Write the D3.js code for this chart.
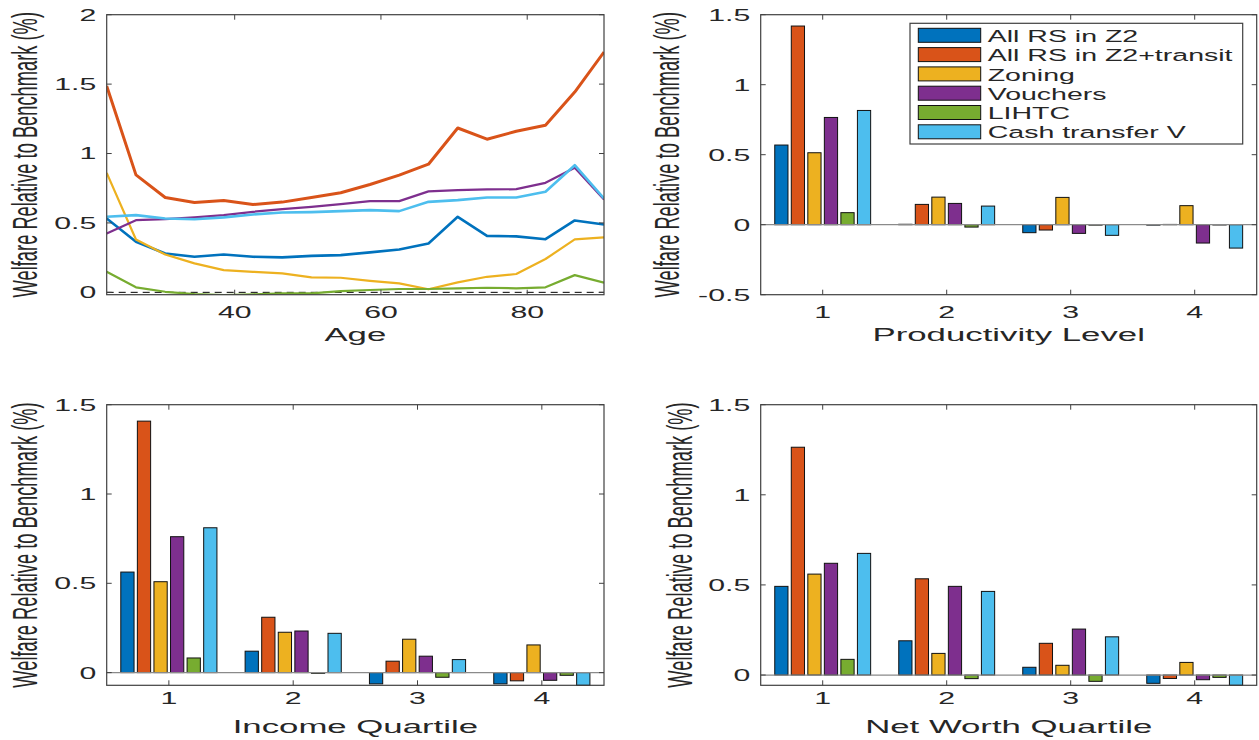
<!DOCTYPE html>
<html><head><meta charset="utf-8">
<script src="https://cdn.jsdelivr.net/npm/d3@7"></script>
<style>
html,body{margin:0;padding:0;background:#fff;}
svg{display:block;}
text{font-family:"Liberation Sans",Arial,Helvetica,sans-serif;fill:#262626;}
</style></head>
<body>
<svg id="chart" width="1259" height="740"></svg>
<script>
// ---------- DATA ----------
const seriesNames = ["All RS in Z2","All RS in Z2+transit","Zoning","Vouchers","LIHTC","Cash transfer V"];
const seriesColors = ["#0072BD","#D95319","#EDB120","#7E2F8E","#77AC30","#4DBEEE"];

// Panel 1: welfare by age
const ages = [22.5,26.5,30.5,34.5,38.5,42.5,46.5,50.5,54.5,58.5,62.5,66.5,70.5,74.5,78.5,82.5,86.5,90.5];
const ageAllRS    = [0.532,0.364,0.280,0.256,0.273,0.256,0.252,0.263,0.268,0.288,0.309,0.352,0.544,0.407,0.403,0.383,0.518,0.489];
const ageTransit  = [1.486,0.846,0.683,0.647,0.662,0.633,0.650,0.683,0.717,0.777,0.844,0.923,1.184,1.103,1.160,1.204,1.443,1.731];
const ageZoning   = [0.860,0.381,0.273,0.209,0.160,0.148,0.137,0.108,0.105,0.083,0.065,0.022,0.072,0.112,0.132,0.240,0.381,0.396];
const ageVouchers = [0.424,0.520,0.527,0.540,0.556,0.580,0.600,0.616,0.635,0.657,0.657,0.727,0.736,0.741,0.743,0.789,0.897,0.669];
const ageLIHTC    = [0.148,0.036,0.004,-0.012,-0.019,-0.014,-0.007,-0.007,0.009,0.017,0.024,0.024,0.029,0.033,0.029,0.036,0.124,0.069];
const ageCash     = [0.544,0.556,0.532,0.527,0.540,0.561,0.575,0.578,0.585,0.592,0.585,0.652,0.664,0.683,0.683,0.724,0.916,0.676];
const ageTicks = [40,60,80];
const ageYTicks = [0,0.5,1,1.5,2];

// Bar panels: groups 1..4
const groups = [1,2,3,4];
const prodAllRS    = [0.569, 0.003,-0.057,-0.003];
const prodTransit  = [1.419, 0.145,-0.038, 0.002];
const prodZoning   = [0.514, 0.197, 0.195, 0.136];
const prodVouchers = [0.766, 0.152,-0.062,-0.131];
const prodLIHTC    = [0.086,-0.017,-0.003,-0.002];
const prodCash     = [0.816, 0.133,-0.076,-0.167];
const prodYTicks = [-0.5,0,0.5,1,1.5];

const incAllRS    = [0.563, 0.120,-0.063,-0.063];
const incTransit  = [1.408, 0.310, 0.064,-0.046];
const incZoning   = [0.509, 0.226, 0.187, 0.155];
const incVouchers = [0.761, 0.233, 0.092,-0.043];
const incLIHTC    = [0.082,-0.004,-0.026,-0.015];
const incCash     = [0.811, 0.220, 0.073,-0.071];

const nwAllRS    = [0.492, 0.190, 0.043,-0.046];
const nwTransit  = [1.264, 0.534, 0.176,-0.019];
const nwZoning   = [0.560, 0.120, 0.054, 0.070];
const nwVouchers = [0.620, 0.492, 0.255,-0.026];
const nwLIHTC    = [0.087,-0.020,-0.035,-0.013];
const nwCash     = [0.675, 0.464, 0.212,-0.057];
const quartYTicks = [0,0.5,1,1.5];

const yLabel = "Welfare Relative to Benchmark (%)";

// ---------- DRAWING ----------
const svg = d3.select("#chart");
const AX = "#404040";
const TICK_FS = 16.8, TICK_SX = 1.8;
const LAB_FS = 18.3, LAB_SX = 1.9, VLAB_SX = 1.88;

function htext(x, y, str, fs, sx, anchor){
  svg.append("text")
    .attr("transform", `translate(${x},${y}) scale(${sx},1)`)
    .attr("text-anchor", anchor)
    .attr("font-size", fs)
    .text(str);
}
function vtext(x, y, str, fs, sx){
  svg.append("text")
    .attr("transform", `translate(${x},${y}) rotate(-90) scale(1,${sx})`)
    .attr("text-anchor", "middle")
    .attr("font-size", fs)
    .text(str);
}

function frame(p, x, y, xTicks, yTicks, fmtX, fmtY){
  const g = svg.append("g");
  const tl = 5;
  xTicks.forEach(t=>{
    const px = x(t);
    g.append("line").attr("x1",px).attr("x2",px).attr("y1",p.b).attr("y2",p.b-tl).attr("stroke",AX);
    g.append("line").attr("x1",px).attr("x2",px).attr("y1",p.t).attr("y2",p.t+tl).attr("stroke",AX);
  });
  yTicks.forEach(t=>{
    const py = y(t);
    g.append("line").attr("x1",p.l).attr("x2",p.l+tl).attr("y1",py).attr("y2",py).attr("stroke",AX);
    g.append("line").attr("x1",p.r).attr("x2",p.r-tl).attr("y1",py).attr("y2",py).attr("stroke",AX);
  });
  g.append("rect").attr("x",p.l).attr("y",p.t).attr("width",p.r-p.l).attr("height",p.b-p.t)
    .attr("fill","none").attr("stroke",AX).attr("stroke-width",1.2);
  xTicks.forEach(t=> htext(x(t), p.xtb, fmtX(t), TICK_FS, TICK_SX, "middle"));
  yTicks.forEach(t=> htext(p.l-10.5, y(t)+5.9, fmtY(t), TICK_FS, TICK_SX, "end"));
  htext((p.l+p.r)/2, p.xlb, p.xlabel, LAB_FS, LAB_SX, "middle");
  vtext(p.ylx, (p.t+p.b)/2, yLabel, LAB_FS, VLAB_SX);
}

const fmt = d => (d===0 ? "0" : String(d));

// ----- Panel 1: lines -----
{
  const p = {l:106.7, r:604, t:14.7, b:294.7, xtb:318.3, xlb:340.5, ylx:37.2, xlabel:"Age"};
  const x = d3.scaleLinear().domain([22.5,90.5]).range([p.l,p.r]);
  const y = d3.scaleLinear().domain([-0.017,2]).range([p.b,p.t]);
  svg.append("defs").append("clipPath").attr("id","clip1")
    .append("rect").attr("x",p.l).attr("y",p.t).attr("width",p.r-p.l).attr("height",p.b-p.t);
  const lineSets = [ageAllRS, ageTransit, ageZoning, ageVouchers, ageLIHTC, ageCash];
  const widths = [2.6, 3.0, 2.2, 2.2, 2.2, 2.6];
  const gl = svg.append("g").attr("clip-path","url(#clip1)");
  gl.append("line").attr("x1",p.l).attr("x2",p.r).attr("y1",y(0)).attr("y2",y(0))
    .attr("stroke","#000").attr("stroke-width",1).attr("stroke-dasharray","7,5");
  const line = d3.line().x((d,i)=>x(ages[i])).y(d=>y(d));
  lineSets.forEach((s,k)=>{
    gl.append("path").attr("d",line(s)).attr("fill","none")
      .attr("stroke",seriesColors[k]).attr("stroke-width",widths[k]).attr("stroke-linejoin","round");
  });
  frame(p, x, y, ageTicks, ageYTicks, fmt, fmt);
}

// ----- Bar panels -----
function barPanel(p, ydom, yTicks, sets, legend){
  const x = d3.scaleLinear().domain([0.5,4.5]).range([p.l,p.r]);
  const y = d3.scaleLinear().domain(ydom).range([p.b,p.t]);
  const n = sets.length, slot = 0.8/n, bw = slot*0.8;
  const g = svg.append("g");
  sets.forEach((s,k)=>{
    s.forEach((v,i)=>{
      const c = groups[i] + (k-(n-1)/2)*slot;
      const x0 = x(c-bw/2), x1 = x(c+bw/2);
      const y0 = y(Math.max(0,v)), y1 = y(Math.min(0,v));
      g.append("rect").attr("x",x0).attr("y",y0).attr("width",x1-x0).attr("height",Math.max(0.01,y1-y0))
        .attr("fill",seriesColors[k]).attr("stroke","#111").attr("stroke-width",1);
    });
  });
  g.append("line").attr("x1",p.l).attr("x2",p.r).attr("y1",y(0)).attr("y2",y(0))
    .attr("stroke","#8a8a8a").attr("stroke-width",1.2);
  frame(p, x, y, groups, yTicks, fmt, fmt);
  if(legend){
    const L = {x0:910, y0:23.3, x1:1242.7, y1:144};
    const lg = svg.append("g");
    lg.append("rect").attr("x",L.x0).attr("y",L.y0).attr("width",L.x1-L.x0).attr("height",L.y1-L.y0)
      .attr("fill","#fff").attr("stroke",AX).attr("stroke-width",1.2);
    seriesNames.forEach((nm,k)=>{
      const ty = 28.3 + k*19.3;
      lg.append("rect").attr("x",918.3).attr("y",ty).attr("width",62.4).attr("height",14)
        .attr("fill",seriesColors[k]).attr("stroke","#111").attr("stroke-width",1);
      htext(987.7, ty+13.6, nm, 16.3, 1.75, "start");
    });
  }
}

barPanel({l:760.7, r:1256.7, t:14.7, b:294.7, xtb:318.3, xlb:340.5, ylx:678.8, xlabel:"Productivity Level"},
  [-0.5,1.5], prodYTicks, [prodAllRS,prodTransit,prodZoning,prodVouchers,prodLIHTC,prodCash], true);
barPanel({l:106.7, r:604, t:404.7, b:685.3, xtb:703.5, xlb:732.5, ylx:37.2, xlabel:"Income Quartile"},
  [-0.071,1.5], quartYTicks, [incAllRS,incTransit,incZoning,incVouchers,incLIHTC,incCash], false);
barPanel({l:760.7, r:1256.7, t:404.7, b:685.3, xtb:703.5, xlb:732.5, ylx:692.2, xlabel:"Net Worth Quartile"},
  [-0.057,1.5], quartYTicks, [nwAllRS,nwTransit,nwZoning,nwVouchers,nwLIHTC,nwCash], false);
</script>
</body></html>
